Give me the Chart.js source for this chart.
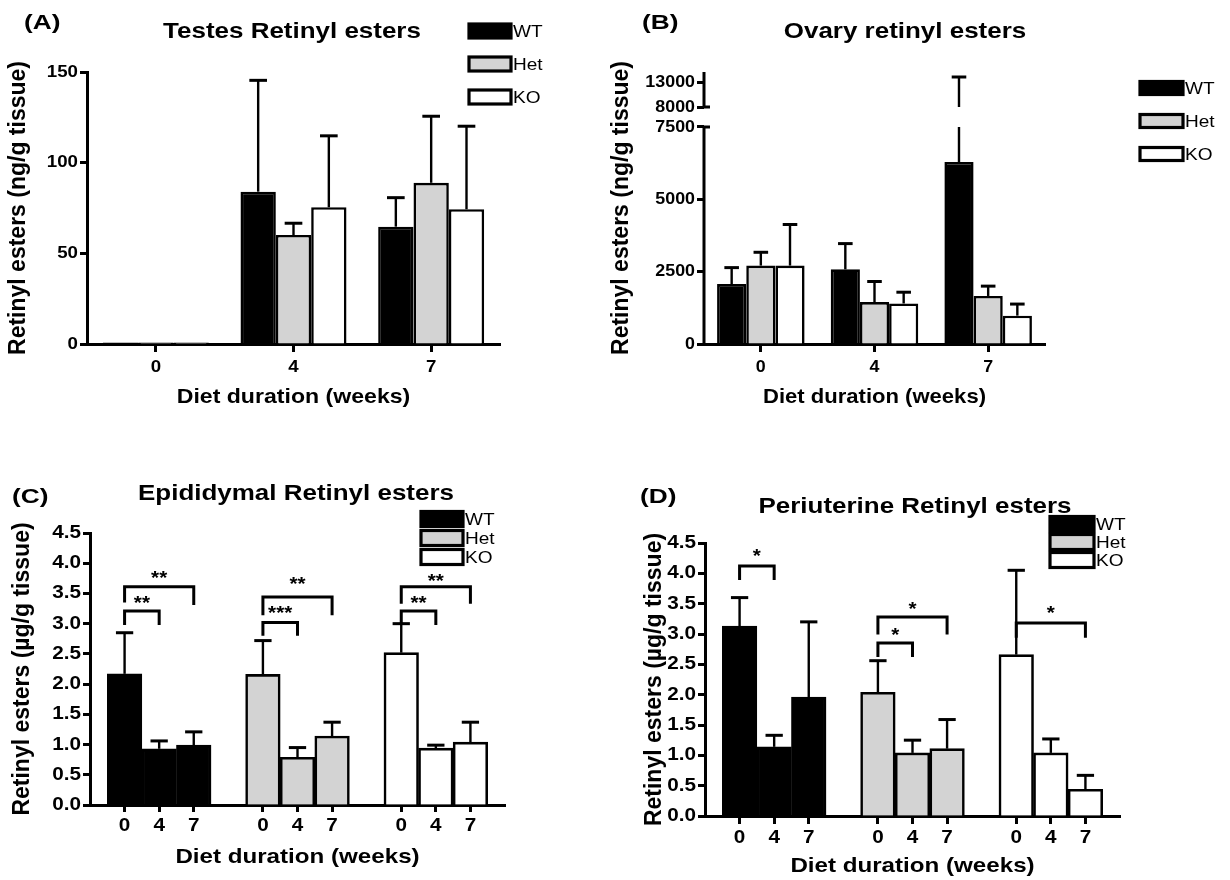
<!DOCTYPE html>
<html>
<head>
<meta charset="utf-8">
<title>Retinyl esters</title>
<script src="https://cdn.jsdelivr.net/npm/chart.js@4.4.1/dist/chart.umd.min.js"></script>
<style>
html,body{margin:0;padding:0;background:#fff;}
body{width:1230px;height:880px;position:relative;overflow:hidden;}
canvas{position:absolute;}
</style>
</head>
<body>
<canvas id="cA" width="600" height="440" style="left:0;top:0"></canvas>
<canvas id="cB" width="630" height="440" style="left:600px;top:0"></canvas>
<canvas id="cC" width="615" height="440" style="left:0;top:440px"></canvas>
<canvas id="cD" width="615" height="440" style="left:615px;top:440px"></canvas>
<script>
// ================= DATA =================
const weeks = ['0', '4', '7'];
const genotypes = ['WT', 'Het', 'KO'];
const groupedWeekLabels = ['', '0', '4', '7', '', '0', '4', '7', '', '0', '4', '7', ''];

// (A) Testes retinyl esters (ng/g tissue) - mean and error
const testesWT = [0.8, 84.0, 64.7];
const testesHet = [0.8, 60.1, 88.9];
const testesKO = [0.8, 75.4, 74.3];
const testesWTErr = [0, 61.4, 16.0];
const testesHetErr = [0, 6.5, 36.7];
const testesKOErr = [0, 39.4, 45.8];
const testesTicks = [0, 50, 100, 150];

// (B) Ovary retinyl esters (ng/g tissue)
const ovaryWT = [2070, 2580, 6290];
const ovaryHet = [2710, 1450, 1660];
const ovaryKO = [2710, 1400, 980];
const ovaryWTErr = [570, 890, 7710];
const ovaryHetErr = [460, 710, 340];
const ovaryKOErr = [1420, 390, 400];
const ovaryTicks = [0, 2500, 5000, 7500, 8000, 13000];
const ovaryBreak = [7500, 8000];

// (C) Epididymal retinyl esters (µg/g tissue)
const epiWT = [2.17, 0.93, 0.99];
const epiHet = [2.16, 0.79, 1.14];
const epiKO = [2.52, 0.94, 1.04];
const epiWTErr = [0.68, 0.13, 0.22];
const epiHetErr = [0.56, 0.16, 0.23];
const epiKOErr = [0.48, 0.05, 0.33];
const epiSig = [
  {group: 0, from: 0, to: 1, top: 3.21, legFrom: 2.98, legTo: 2.98, text: '**', textAt: 3.41},
  {group: 0, from: 0, to: 2, top: 3.61, legFrom: 3.35, legTo: 3.31, text: '**', textAt: 3.83},
  {group: 1, from: 0, to: 1, top: 3.02, legFrom: 2.80, legTo: 2.80, text: '***', textAt: 3.24},
  {group: 1, from: 0, to: 2, top: 3.44, legFrom: 3.14, legTo: 3.14, text: '**', textAt: 3.73},
  {group: 2, from: 0, to: 1, top: 3.21, legFrom: 2.98, legTo: 2.98, text: '**', textAt: 3.41},
  {group: 2, from: 0, to: 2, top: 3.61, legFrom: 3.33, legTo: 3.33, text: '**', textAt: 3.77}
];

// (D) Periuterine retinyl esters (µg/g tissue)
const periWT = [3.13, 1.14, 1.96];
const periHet = [2.04, 1.04, 1.11];
const periKO = [2.66, 1.04, 0.44];
const periWTErr = [0.47, 0.19, 1.24];
const periHetErr = [0.52, 0.21, 0.48];
const periKOErr = [1.39, 0.23, 0.23];
const periSig = [
  {group: 0, from: 0, to: 1, top: 4.12, legFrom: 3.89, legTo: 3.89, text: '*', textAt: 4.36},
  {group: 1, from: 0, to: 1, top: 2.85, legFrom: 2.62, legTo: 2.62, text: '*', textAt: 3.06},
  {group: 1, from: 0, to: 2, top: 3.28, legFrom: 2.99, legTo: 2.99, text: '*', textAt: 3.48},
  {group: 2, from: 0, to: 2, top: 3.18, legFrom: 2.94, legTo: 2.94, text: '*', textAt: 3.42}
];
const fatTicks = [0, 0.5, 1.0, 1.5, 2.0, 2.5, 3.0, 3.5, 4.0, 4.5];

// ================= STYLE =================
const FONT = "'Liberation Sans', Arial, Helvetica, sans-serif";
const genotypeFills = ['#000000', '#d3d3d3', '#ffffff'];
Chart.defaults.font.family = FONT;
Chart.defaults.color = '#000';

// Horizontally widened lettering (the reference type is set wide).
function widenText(canvas, sx) {
  const ctx = canvas.getContext('2d');
  const orig = ctx.fillText;
  ctx.__sx = sx;
  ctx.fillText = function (t, x, y, mw) {
    const m = this.getTransform();
    const rotated = Math.abs(m.b) > Math.abs(m.a);
    const s = rotated ? 1 : this.__sx;
    if (s === 1) return mw === undefined ? orig.call(this, t, x, y) : orig.call(this, t, x, y, mw);
    this.save();
    this.translate(x, y);
    this.scale(s, 1);
    if (mw === undefined) orig.call(this, t, 0, 0); else orig.call(this, t, 0, 0, mw / s);
    this.restore();
  };
  return canvas;
}
function drawWide(ctx, text, x, y, sx) {
  const keep = ctx.__sx;
  ctx.__sx = sx;
  ctx.fillText(text, x, y);
  ctx.__sx = keep;
}

// broken linear scale (for the ovary panel)
class BrokenLinearScale extends Chart.LinearScale {
  _dec(v) {
    const [a, b] = this.options.breakVals;
    const [fa, fb] = this.options.breakFracs;
    const lo = this.min, hi = this.max;
    if (v <= a) return (v - lo) / (a - lo) * fa;
    if (v >= b) return fb + (v - b) / (hi - b) * (1 - fb);
    return fa + (v - a) / (b - a) * (fb - fa);
  }
  getPixelForValue(v) {
    if (v === null || v === undefined) return NaN;
    return this.getPixelForDecimal(this._dec(v));
  }
  getValueForPixel(p) {
    const d = this.getDecimalForPixel(p);
    const [a, b] = this.options.breakVals;
    const [fa, fb] = this.options.breakFracs;
    if (d <= fa) return this.min + d / fa * (a - this.min);
    if (d >= fb) return b + (d - fb) / (1 - fb) * (this.max - b);
    return a + (d - fa) / (fb - fa) * (b - a);
  }
}
BrokenLinearScale.id = 'brokenLinear';
BrokenLinearScale.defaults = {};
Chart.register(BrokenLinearScale);

// ================= PLUGINS =================
const errorBars = {
  id: 'errorBars',
  afterDatasetsDraw(chart) {
    const ctx = chart.ctx, ys = chart.scales.y;
    const brk = ys.options.breakVals;
    ctx.save();
    ctx.strokeStyle = '#000';
    chart.data.datasets.forEach((ds, di) => {
      const meta = chart.getDatasetMeta(di);
      meta.data.forEach((bar, i) => {
        const v = ds.data[i], e = ds.errors ? ds.errors[i] : null;
        if (v === null || v === undefined || !e) return;
        const hi = v + e;
        const x = bar.x, y0 = bar.y, y1 = ys.getPixelForValue(hi);
        ctx.lineWidth = 2.4;
        ctx.beginPath();
        if (brk && hi > brk[1] && v < brk[0]) {
          ctx.moveTo(x, y0); ctx.lineTo(x, ys.getPixelForValue(brk[0]));
          ctx.moveTo(x, ys.getPixelForValue(brk[1])); ctx.lineTo(x, y1);
        } else {
          ctx.moveTo(x, y0); ctx.lineTo(x, y1);
        }
        ctx.stroke();
        const cw = bar.width * 0.5;
        ctx.lineWidth = 3;
        ctx.beginPath();
        ctx.moveTo(x - cw / 2, y1); ctx.lineTo(x + cw / 2, y1);
        ctx.stroke();
      });
    });
    ctx.restore();
  }
};

function sigBrackets(items, fontSize) {
  return {
    id: 'sigBrackets',
    afterDatasetsDraw(chart) {
      const ctx = chart.ctx, ys = chart.scales.y;
      ctx.save();
      ctx.strokeStyle = '#000';
      ctx.fillStyle = '#000';
      ctx.lineWidth = 3;
      ctx.lineJoin = 'miter';
      items.forEach(b => {
        const meta = chart.getDatasetMeta(b.group);
        const xa = meta.data[1 + b.group * 4 + b.from].x;
        const xb = meta.data[1 + b.group * 4 + b.to].x;
        const yt = ys.getPixelForValue(b.top);
        ctx.beginPath();
        ctx.moveTo(xa, ys.getPixelForValue(b.legFrom));
        ctx.lineTo(xa, yt);
        ctx.lineTo(xb, yt);
        ctx.lineTo(xb, ys.getPixelForValue(b.legTo));
        ctx.stroke();
        ctx.font = `bold ${fontSize}px ${FONT}`;
        ctx.textAlign = 'center';
        ctx.textBaseline = 'alphabetic';
        drawWide(ctx, b.text, (xa + xb) / 2, ys.getPixelForValue(b.textAt) + 0.57 * fontSize, 1.15);
      });
      ctx.restore();
    }
  };
}

function panelText(letter, lx, ly, title, tx, ty) {
  return {
    id: 'panelText',
    afterDraw(chart) {
      const ctx = chart.ctx;
      ctx.save();
      ctx.fillStyle = '#000';
      ctx.textBaseline = 'middle';
      ctx.textAlign = 'left';
      ctx.font = `bold 21px ${FONT}`;
      drawWide(ctx, letter, lx, ly, 1.25);
      ctx.textAlign = 'center';
      ctx.font = `bold 22px ${FONT}`;
      drawWide(ctx, title, tx, ty, 1.18);
      ctx.restore();
    }
  };
}

function boxLegend(x, yFirst, dy, bw, bh, fs) {
  return {
    id: 'boxLegend',
    afterDraw(chart) {
      const ctx = chart.ctx;
      ctx.save();
      chart.data.datasets.forEach((ds, i) => {
        const yc = yFirst + i * dy;
        ctx.fillStyle = ds.backgroundColor;
        ctx.fillRect(x, yc - bh / 2, bw, bh);
        ctx.lineWidth = 3.2;
        ctx.strokeStyle = '#000';
        ctx.strokeRect(x, yc - bh / 2, bw, bh);
        ctx.fillStyle = '#000';
        ctx.font = `${fs}px ${FONT}`;
        ctx.textAlign = 'left';
        ctx.textBaseline = 'middle';
        drawWide(ctx, ds.label, x + bw + 2, yc + 1, 1.12);
      });
      ctx.restore();
    }
  };
}

const brokenAxis = {
  id: 'brokenAxis',
  afterDraw(chart) {
    const ctx = chart.ctx, s = chart.scales.y;
    const [a, b] = s.options.breakVals;
    const x = chart.chartArea.left;
    const ya = s.getPixelForValue(a), yb = s.getPixelForValue(b);
    ctx.save();
    ctx.strokeStyle = '#000';
    ctx.lineWidth = 3;
    ctx.beginPath();
    ctx.moveTo(x, chart.chartArea.bottom + 1.5); ctx.lineTo(x, ya);
    ctx.moveTo(x, yb); ctx.lineTo(x, chart.chartArea.top);
    ctx.moveTo(x - 1, ya); ctx.lineTo(x + 6, ya);
    ctx.moveTo(x - 1, yb); ctx.lineTo(x + 6, yb);
    ctx.stroke();
    ctx.restore();
  }
};

// ================= BUILDERS =================
function groupedSets(vals, errs, catPct) {
  return genotypes.map((g, i) => ({
    label: g, data: vals[i], errors: errs[i],
    backgroundColor: genotypeFills[i], borderColor: '#000', borderWidth: 2.6,
    barPercentage: 1, categoryPercentage: catPct
  }));
}
function spread(g, vals) {
  const out = groupedWeekLabels.map(() => null);
  vals.forEach((v, i) => { out[1 + g * 4 + i] = v; });
  return out;
}
function slotSets(vals, errs) {
  return genotypes.map((g, i) => ({
    label: g, data: spread(i, vals[i]), errors: spread(i, errs[i]),
    backgroundColor: genotypeFills[i], borderColor: '#000', borderWidth: 2.6,
    barPercentage: 1, categoryPercentage: 1, skipNull: true
  }));
}

function makeChart(id, c) {
  const yScale = {
    type: c.yType || 'linear',
    min: c.yMin, max: c.yMax,
    afterBuildTicks: s => { s.ticks = c.yTicks.map(v => ({value: v})); },
    afterFit: s => { s.width = c.yW; },
    grid: {display: true, drawOnChartArea: false, drawTicks: true, tickLength: 7, tickWidth: 3, tickColor: '#000'},
    border: {display: c.yBorder !== false, width: 3, color: '#000'},
    ticks: {font: {size: c.tickSize, weight: 'bold'}, color: '#000', padding: 2, callback: c.yFmt},
    title: {display: true, text: c.yTitle, font: {size: 23, weight: 'bold'}, color: '#000', padding: {top: c.yTitlePad, bottom: 0}}
  };
  if (c.breakVals) { yScale.breakVals = c.breakVals; yScale.breakFracs = c.breakFracs; }
  const canvas = widenText(document.getElementById(id), c.tickWide);
  return new Chart(canvas, {
    type: 'bar',
    data: {labels: c.labels, datasets: c.datasets},
    options: {
      responsive: false, animation: false, devicePixelRatio: 1, events: [],
      layout: {padding: c.padding},
      plugins: {legend: {display: false}, title: {display: false}, tooltip: {enabled: false}},
      scales: {
        x: {
          type: 'category', offset: c.xOffset,
          afterFit: s => { s.height = c.xH; },
          grid: {display: true, drawOnChartArea: false, drawTicks: true, tickLength: c.xTickLen, tickWidth: 3, offset: false,
                 tickColor: ctx => (ctx.tick && ctx.tick.label === '') ? 'rgba(0,0,0,0)' : '#000'},
          border: {display: true, width: 3, color: '#000'},
          ticks: {font: {size: c.tickSize, weight: 'bold'}, color: '#000', padding: c.xTickPad, autoSkip: false, maxRotation: 0, minRotation: 0},
          title: {display: true, text: 'Diet duration (weeks)', font: {size: 21, weight: 'bold'}, color: '#000', padding: {top: 0, bottom: c.xTitlePad}}
        },
        y: yScale
      }
    },
    plugins: c.plugins
  });
}

// ================= CHARTS =================
// (A) canvas at page (0,0)
makeChart('cA', {
  labels: weeks,
  datasets: groupedSets([testesWT, testesHet, testesKO], [testesWTErr, testesHetErr, testesKOErr], 0.77),
  xOffset: true, padding: {left: 0, top: 72, right: 100, bottom: 0},
  yW: 87, xH: 96, yMin: 0, yMax: 150, yTicks: testesTicks, tickSize: 17, tickWide: 1.1,
  yTitle: 'Retinyl esters (ng/g tissue)', yTitlePad: 5,
  xTickLen: 8, xTickPad: 5, xTitlePad: 30,
  plugins: [errorBars, panelText('(A)', 24, 23, 'Testes Retinyl esters', 292, 32), boxLegend(469, 31, 33, 42, 14, 17)]
});

// (B) canvas at page (600,0)
makeChart('cB', {
  labels: weeks,
  datasets: groupedSets([ovaryWT, ovaryHet, ovaryKO], [ovaryWTErr, ovaryHetErr, ovaryKOErr], 0.77),
  xOffset: true, padding: {left: 0, top: 72, right: 185, bottom: 0},
  yW: 104, xH: 96, yMin: 0, yMax: 15000, yTicks: ovaryTicks, yType: 'brokenLinear', tickSize: 17, tickWide: 1.05,
  breakVals: ovaryBreak, breakFracs: [217 / 272, 237 / 272], yBorder: false,
  yFmt: v => String(v),
  yTitle: 'Retinyl esters (ng/g tissue)', yTitlePad: 8,
  xTickLen: 8, xTickPad: 5, xTitlePad: 30,
  plugins: [errorBars, brokenAxis, panelText('(B)', 42, 23, 'Ovary retinyl esters', 305, 32), boxLegend(540, 88, 33, 43, 13, 17)]
});

// (C) canvas at page (0,440)
makeChart('cC', {
  labels: groupedWeekLabels,
  datasets: slotSets([epiWT, epiHet, epiKO], [epiWTErr, epiHetErr, epiKOErr]),
  xOffset: false, padding: {left: 0, top: 93, right: 110, bottom: 0},
  yW: 90, xH: 75, yMin: 0, yMax: 4.5, yTicks: fatTicks, tickSize: 18, tickWide: 1.15,
  yFmt: v => Number(v).toFixed(1),
  yTitle: 'Retinyl esters (µg/g tissue)', yTitlePad: 9,
  xTickLen: 7, xTickPad: 3, xTitlePad: 10,
  plugins: [errorBars, sigBrackets(epiSig, 18), panelText('(C)', 12, 57, 'Epididymal Retinyl esters', 296, 54), boxLegend(421, 79, 19, 42, 15, 17)]
});

// (D) canvas at page (615,440)
makeChart('cD', {
  labels: groupedWeekLabels,
  datasets: slotSets([periWT, periHet, periKO], [periWTErr, periHetErr, periKOErr]),
  xOffset: false, padding: {left: 0, top: 103, right: 110, bottom: 0},
  yW: 90, xH: 64, yMin: 0, yMax: 4.5, yTicks: fatTicks, tickSize: 18, tickWide: 1.15,
  yFmt: v => Number(v).toFixed(1),
  yTitle: 'Retinyl esters (µg/g tissue)', yTitlePad: 26,
  xTickLen: 8, xTickPad: 3, xTitlePad: 1,
  plugins: [errorBars, sigBrackets(periSig, 18), panelText('(D)', 25, 57, 'Periuterine Retinyl esters', 300, 67), boxLegend(435, 84, 18, 44, 15, 17)]
});
</script>
</body>
</html>
